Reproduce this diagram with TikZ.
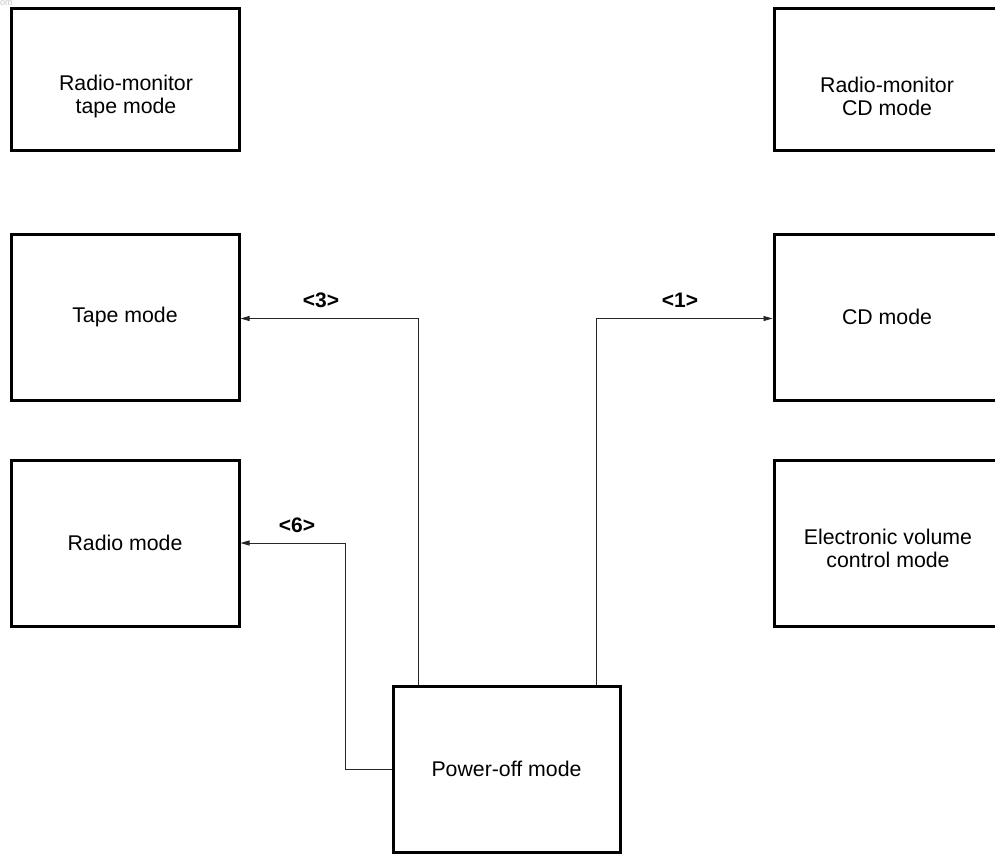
\documentclass[tikz,border=0pt]{standalone}
\usepackage{fontspec}
\setmainfont{Liberation Sans}
\usetikzlibrary{arrows.meta}
\begin{document}
\begin{tikzpicture}[x=1pt,y=-1pt,
  box/.style={draw=black,line width=3pt,minimum width=228pt,minimum height=#1,inner sep=0pt},
  box/.default=166pt,
  txt/.style={align=center,font=\fontsize{21.3}{23}\selectfont},
  conn/.style={draw=black!85,line width=0.9pt},
  arr/.style={conn,-{Triangle[length=9pt,width=5pt]}},
  lbl/.style={font=\fontsize{21}{22}\selectfont\bfseries}]
\useasboundingbox (0,0) rectangle (995,854);
\clip (0,0) rectangle (995,854);
\fill[white] (0,0) rectangle (995,854);
\node[anchor=north west,inner sep=0pt,text=black!22,font=\fontsize{9}{9}\selectfont] (wm) at (0,0.5) {om};
% left column
\node[box=142pt] (rmt) at (125,79) {};
\node[txt] (rmtT) at (126,96) {Radio-monitor\\tape mode};
\node[box,txt] (tape) at (125,317) {Tape mode};
\node[box,txt] (radio) at (125,543) {Radio mode};
% right column
\node[box=142pt,minimum width=226pt] (rmcd) at (887,79) {};
\node[txt] (rmcdT) at (887,96) {Radio-monitor\\CD mode};
\node[box,minimum width=226pt,txt] (cd) at (887,317) {CD mode};
\node[box,minimum width=226pt] (evc) at (887,543) {};
\node[txt] (evcT) at (888,548) {Electronic volume\\control mode};
% power-off
\node[box,minimum width=227pt,txt] (poff) at (506.5,769) {Power-off mode};
% connectors
\draw[arr] ([xshift=-88.5]poff.north) |- ([yshift=-1.5]tape.east);
\draw[arr] ([xshift=89.5]poff.north) |- ([yshift=-1.5]cd.west);
\draw[arr] (poff.west) -- ++(-46.5,0) |- (radio.east);
% labels
\node[lbl] (l3) at (321,300) {<3>};
\node[lbl] (l1) at (680,300) {<1>};
\node[lbl] (l6) at (297,525) {<6>};
\end{tikzpicture}
\end{document}
